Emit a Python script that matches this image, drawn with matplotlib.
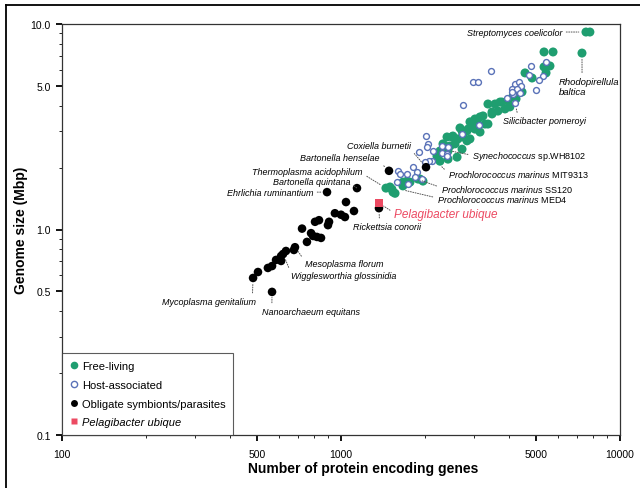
import matplotlib
matplotlib.use("Agg")
import matplotlib.pyplot as plt
from matplotlib.lines import Line2D
from matplotlib.ticker import FixedLocator, FixedFormatter, NullFormatter

plt.rcParams['font.family'] = ['Liberation Sans', 'DejaVu Sans']
plt.rcParams['mathtext.fontset'] = 'custom'
plt.rcParams['mathtext.rm'] = 'Liberation Sans'
plt.rcParams['mathtext.it'] = 'Liberation Sans:italic'

# genes vs genome size (Mbp)
free_genes = [7551, 7800, 5342, 5754, 7307, 5342, 5610, 4567, 4840, 5431, 4455, 4240, 4136, 3715,
              3565, 3363, 3776, 3967, 4274, 3478, 3228, 3150, 3022, 2899, 3363, 2972, 2829, 2670,
              3150, 2737, 2500, 2399, 2626, 2829, 2360, 2460, 2263, 2418, 2606, 2263, 2418, 2320,
              2208, 3478, 2852, 2715, 2518, 2737, 3072, 2244, 2320, 1919, 1888, 1967, 1767, 1725,
              1667, 1667, 1498, 1523, 1536, 1562, 1449, 2562, 2715, 2899, 3281, 3870, 4030, 3653,
              3022]
free_mbp = [9.14, 9.14, 7.31, 7.31, 7.22, 6.18, 6.25, 5.78, 5.46, 5.78, 4.67, 4.32, 4.46, 4.17,
            4.08, 4.08, 4.17, 4.22, 4.67, 3.73, 3.57, 3.53, 3.45, 3.34, 3.26, 3.15, 3.02, 3.12,
            2.98, 2.92, 2.82, 2.82, 2.76, 2.70, 2.55, 2.55, 2.41, 2.41, 2.25, 2.15, 2.20, 2.61,
            2.28, 3.65, 3.08, 3.02, 2.85, 2.82, 3.37, 2.33, 2.41, 1.76, 1.76, 1.72, 1.70, 1.72,
            1.63, 1.70, 1.61, 1.57, 1.52, 1.50, 1.59, 2.61, 2.46, 2.76, 3.26, 3.86, 3.95, 3.77,
            3.08]

host_genes = [4800, 5431, 3449, 4722, 5300, 5125, 2972, 3098, 5000, 4205, 4345, 4418, 4100, 4274,
              4136, 4382, 3935, 4205, 2737, 3124, 2715, 2017, 2051, 2033, 2300, 2418, 2300, 2399,
              1905, 2118, 2066, 2000, 1812, 1600, 1627, 1725, 1872, 1841, 1950, 1588, 1738, 2136,
              2399, 4100]
host_mbp = [6.25, 6.53, 5.90, 5.65, 5.58, 5.34, 5.22, 5.22, 4.77, 5.11, 5.22, 4.99, 4.83, 4.83,
            4.56, 4.62, 4.36, 4.13, 4.03, 3.22, 2.92, 2.85, 2.61, 2.52, 2.55, 2.52, 2.36, 2.33,
            2.38, 2.15, 2.15, 2.13, 2.01, 1.93, 1.86, 1.86, 1.90, 1.80, 1.76, 1.70, 1.66, 2.41,
            2.28, 4.67]

obligate_genes = [1486, 2017, 1141, 891, 1042, 1113, 951, 1000, 1033, 834, 807, 906, 898, 725,
                  781, 794, 820, 848, 755, 684, 678, 635, 620, 610, 610, 585, 566, 547, 504, 484,
                  566, 1368]
obligate_mbp = [1.93, 2.01, 1.59, 1.52, 1.36, 1.23, 1.20, 1.18, 1.15, 1.11, 1.09, 1.09, 1.05, 1.01,
                0.96, 0.93, 0.92, 0.91, 0.87, 0.82, 0.795, 0.786, 0.76, 0.743, 0.703, 0.711, 0.664,
                0.65, 0.621, 0.581, 0.497, 1.27]

pelagi_genes = [1368]
pelagi_mbp = [1.345]

x_ticks = [100, 500, 1000, 5000, 10000]
x_labels = ['100', '500', '1000', '5000', '10000']
y_ticks = [0.1, 0.5, 1.0, 5.0, 10.0]
y_labels = ['0.1', '0.5', '1.0', '5.0', '10.0']

GREEN = '#1f9e70'
BLUE = '#5a72b8'
PINK = '#ec4a62'

fig = plt.figure(figsize=(6.4, 4.89), dpi=100)
ax = fig.add_axes([62/640, 1 - 436/489, 558/640, 411/489])

ax.scatter(free_genes, free_mbp, s=42, c=GREEN, edgecolors='none', zorder=3)
ax.scatter(host_genes, host_mbp, s=18, facecolors='white', edgecolors=BLUE, linewidths=1.0, zorder=4)
ax.scatter(obligate_genes, obligate_mbp, s=38, c='black', edgecolors='none', zorder=5)
ax.scatter(pelagi_genes, pelagi_mbp, s=28, marker='s', c=PINK, edgecolors='none', zorder=6)

ax.set_xscale('log')
ax.set_yscale('log')
ax.set_xlim(100, 10000)
ax.set_ylim(0.1, 10)

ax.xaxis.set_major_locator(FixedLocator(x_ticks))
ax.xaxis.set_major_formatter(FixedFormatter(x_labels))
ax.yaxis.set_major_locator(FixedLocator(y_ticks))
ax.yaxis.set_major_formatter(FixedFormatter(y_labels))
xminor = [m * d for d in (100, 1000) for m in (2, 3, 4, 6, 7, 8, 9)]
yminor = [m * d for d in (0.1, 1.0) for m in (2, 3, 4, 6, 7, 8, 9)]
ax.xaxis.set_minor_locator(FixedLocator(xminor))
ax.yaxis.set_minor_locator(FixedLocator(yminor))
ax.xaxis.set_minor_formatter(NullFormatter())
ax.yaxis.set_minor_formatter(NullFormatter())
ax.tick_params(which='major', direction='out', length=4, width=1.3, labelsize=7.5, pad=4)
ax.tick_params(which='minor', direction='out', length=2.5, width=0.6)
ax.tick_params(axis='x', which='major', pad=6)

for sp in ax.spines.values():
    sp.set_color('#333333')
    sp.set_linewidth(0.9)

ax.set_xlabel('Number of protein encoding genes', fontsize=10, fontweight='bold')
ax.set_ylabel('Genome size (Mbp)', fontsize=10, fontweight='bold')
ax.xaxis.set_label_coords((363 - 62) / 558, -26 / 411)
ax.yaxis.set_label_coords(-34 / 558, 0.5)

line = dict(arrowstyle='-', linestyle=(0, (1, 1.5)), color='#555555', lw=0.7, shrinkA=1, shrinkB=4)
FS = 6.5


def label(txt, xy, off, ha='left', va='center', relpos=(0.5, 0.5), style='italic', **kw):
    props = dict(line, relpos=relpos)
    ax.annotate(txt, xy=xy, xytext=off, textcoords='offset points', ha=ha, va=va,
                fontsize=kw.pop('fontsize', FS), fontstyle=style, arrowprops=props, zorder=7, **kw)


label('Streptomyces coelicolor', (7450, 9.14), (-16, 0), ha='right', relpos=(1, 0.5))
label('Rhodopirellula\nbaltica', (7307, 7.22), (-16.5, -17), va='top', relpos=(0.38, 1),
      linespacing=1.2, fontsize=6.8)
label('Silicibacter pomeroyi', (4205, 4.13), (-8.6, -13), relpos=(0.18, 1))
label(r'$\it{Synechococcus}$ sp.WH8102', (2399, 2.43), (18, -3.6), relpos=(0, 0.5), style='normal')
label(r'$\it{Prochlorococcus\ marinus}$ MIT9313', (2208, 2.13), (8, -8.6), relpos=(0, 0.6), style='normal')
label(r'$\it{Prochlorococcus\ marinus}$ SS120', (1872, 1.76), (17, -6.8), relpos=(0, 0.6), style='normal')
label(r'$\it{Prochlorococcus\ marinus}$ MED4', (1627, 1.57), (26.5, -7.0), relpos=(0, 0.6), style='normal')
label('Pelagibacter ubique', (1368, 1.345), (10.8, -7.9), relpos=(0, 0.6), color=PINK, fontsize=8.5)
label('Rickettsia conorii', (1368, 1.27), (-18.7, -10), va='top', relpos=(0.39, 1))
label('Coxiella burnetii', (2017, 2.01), (-10.8, 15.8), ha='right', relpos=(1, 0))
label('Bartonella henselae', (1486, 1.93), (-6.5, 9.4), ha='right', relpos=(1, 0))
label('Thermoplasma acidophilum', (1449, 1.59), (-16.6, 12.2), ha='right', relpos=(1, 0.2))
label('Bartonella quintana', (1141, 1.59), (-5, 5), ha='right', relpos=(1, 0.3))
label('Ehrlichia ruminantium', (891, 1.52), (-10, 0), ha='right', relpos=(1, 0.5))
label('Mesoplasma florum', (684, 0.822), (7.2, -12.2), relpos=(0, 0.8))
label('Wigglesworthia glossinidia', (620, 0.76), (5.8, -15.8), relpos=(0, 0.8))
label('Mycoplasma genitalium', (484, 0.581), (2.2, -13.7), ha='right', va='top', relpos=(0.96, 1))
label('Nanoarchaeum equitans', (566, 0.497), (-7.2, -10.8), va='top', relpos=(0.1, 1))

handles = [
    Line2D([], [], ls='none', marker='o', ms=5.5, mfc=GREEN, mec='none'),
    Line2D([], [], ls='none', marker='o', ms=4.5, mfc='white', mec=BLUE, mew=1.0),
    Line2D([], [], ls='none', marker='o', ms=5, mfc='black', mec='none'),
    Line2D([], [], ls='none', marker='s', ms=5, mfc=PINK, mec='none'),
]
names = ['Free-living', 'Host-associated', 'Obligate symbionts/parasites', 'Pelagibacter ubique']
leg = ax.legend(handles, names, loc='lower left', bbox_to_anchor=(0, 0), borderaxespad=0,
                fontsize=8.0, frameon=True, fancybox=False, handlelength=0.8, handletextpad=0.3,
                labelspacing=0.78, borderpad=0.7, edgecolor='#333333')
leg.get_frame().set_linewidth(0.8)
leg.get_texts()[3].set_fontstyle('italic')
leg.set_zorder(8)

# outer frame (top and left edges)
fig.add_artist(Line2D([6/640, 1], [1 - 6/489, 1 - 6/489], transform=fig.transFigure, color='black', lw=1.3))
fig.add_artist(Line2D([6/640, 6/640], [0, 1 - 6/489], transform=fig.transFigure, color='black', lw=1.3))

fig.savefig('out.png', dpi=100)
